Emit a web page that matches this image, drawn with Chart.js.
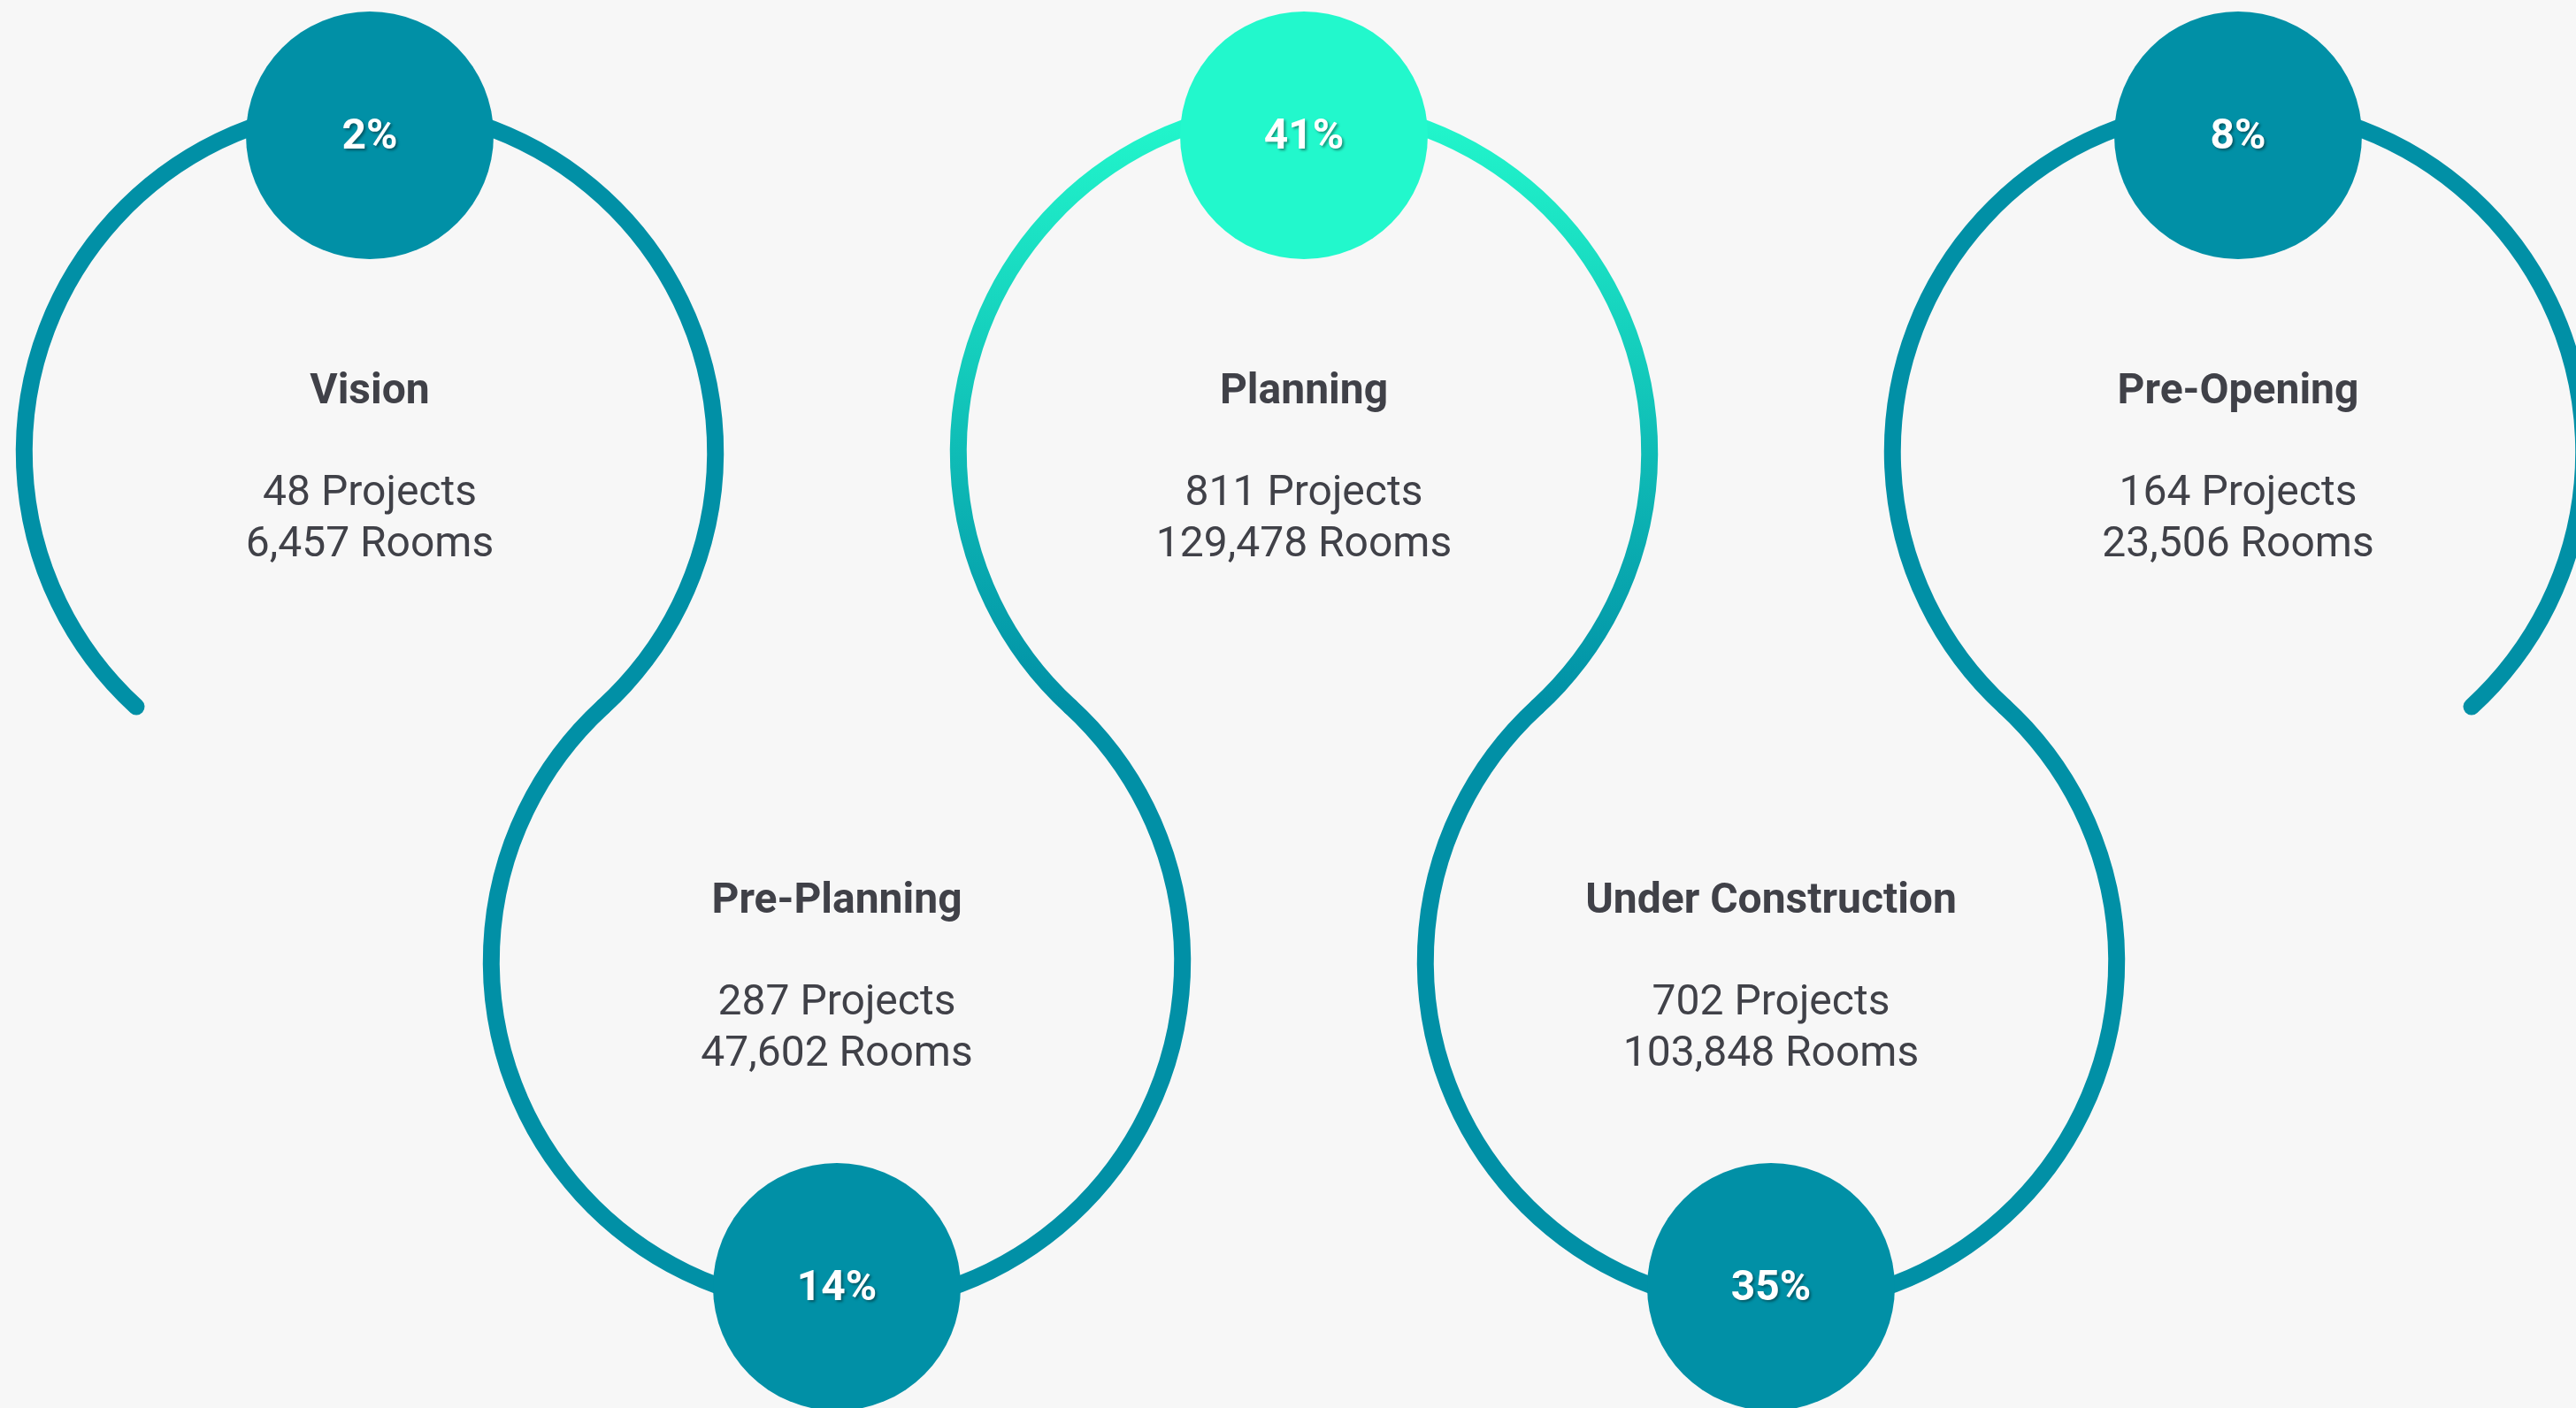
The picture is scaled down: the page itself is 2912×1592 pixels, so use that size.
<!DOCTYPE html>
<html>
<head>
<meta charset="utf-8">
<title>Project pipeline by stage</title>
<script src="https://cdn.jsdelivr.net/npm/chart.js@4.4.1/dist/chart.umd.min.js"></script>
<style>
  html, body { margin: 0; padding: 0; background: #f7f7f7; }
  #pipeline { display: block; }
</style>
</head>
<body>
<canvas id="pipeline" width="2912" height="1592"></canvas>
<script>
// pipeline data
const stages = ['Vision', 'Pre-Planning', 'Planning', 'Under Construction', 'Pre-Opening'];
const sharePct = [2, 14, 41, 35, 8];
const projects = [48, 287, 811, 702, 164];
const rooms = [6457, 47602, 129478, 103848, 23506];

const TEAL = '#0190a6';
const MINT = '#22f8cc';
const TEXT = '#404148';
const FONT = 'Roboto, "Noto Sans", sans-serif';

const topMax = Math.max(...sharePct);
const isTop = (i) => i % 2 === 0;

// ring centre sits below a top bubble / above a bottom bubble
function ringCenter(chart, i) {
    const x = chart.scales.x.getPixelForValue(i);
    const by = chart.scales.y.getPixelForValue(isTop(i) ? 1 : 0);
    return { x: x, y: isTop(i) ? by + 358 : by - 368 };
}

const ringsPlugin = {
    id: 'rings',
    beforeDatasetsDraw(chart) {
        const ctx = chart.ctx;
        const c0 = ringCenter(chart, 0);
        const c1 = ringCenter(chart, 1);
        const dx = c1.x - c0.x;
        const dy = c1.y - c0.y;
        const R = Math.sqrt(dx * dx + dy * dy) / 2;
        const phi = Math.atan2(dy, dx);

        ctx.save();
        ctx.lineWidth = 19;
        ctx.lineCap = 'round';
        stages.forEach((s, i) => {
            const c = ringCenter(chart, i);
            let stroke = TEAL;
            if (sharePct[i] === topMax) {
                const g = ctx.createLinearGradient(0, c.y - R, 0, c.y + R * Math.sin(phi));
                g.addColorStop(0, MINT);
                g.addColorStop(1, TEAL);
                stroke = g;
            }
            ctx.strokeStyle = stroke;
            ctx.beginPath();
            if (isTop(i)) {
                ctx.arc(c.x, c.y, R, Math.PI - phi, phi, false);
            } else {
                ctx.arc(c.x, c.y, R, Math.PI + phi, -phi, true);
            }
            ctx.stroke();
        });
        ctx.restore();
    },
    afterDatasetsDraw(chart) {
        const ctx = chart.ctx;
        const meta = chart.getDatasetMeta(0);
        ctx.save();
        ctx.textAlign = 'center';
        ctx.textBaseline = 'alphabetic';
        stages.forEach((s, i) => {
            const c = ringCenter(chart, i);
            ctx.fillStyle = TEXT;
            ctx.font = 'bold 48px ' + FONT;
            ctx.fillText(s, c.x, c.y - 55);
            ctx.font = '48px ' + FONT;
            ctx.fillText(projects[i].toLocaleString('en-US') + ' Projects', c.x, c.y + 60);
            ctx.fillText(rooms[i].toLocaleString('en-US') + ' Rooms', c.x, c.y + 118);

            // percentage inside the bubble
            const pt = meta.data[i];
            ctx.save();
            ctx.shadowColor = 'rgba(0, 0, 0, 0.4)';
            ctx.shadowOffsetX = 2;
            ctx.shadowOffsetY = 2;
            ctx.shadowBlur = 3;
            ctx.fillStyle = '#ffffff';
            ctx.font = 'bold 48px ' + FONT;
            ctx.fillText(sharePct[i] + '%', pt.x, pt.y + 15);
            ctx.restore();
        });
        ctx.restore();
    }
};

const ctx = document.getElementById('pipeline').getContext('2d');

new Chart(ctx, {
    type: 'bubble',
    data: {
        datasets: [{
            label: 'Share of projects',
            data: stages.map((s, i) => ({ x: i, y: isTop(i) ? 1 : 0, r: 140 })),
            backgroundColor: sharePct.map(p => p === topMax ? MINT : TEAL),
            borderWidth: 0,
            hoverRadius: 0,
            clip: false
        }]
    },
    options: {
        responsive: false,
        animation: false,
        layout: { padding: 0, autoPadding: false },
        plugins: {
            legend: { display: false },
            tooltip: { enabled: false }
        },
        scales: {
            x: { type: 'linear', display: false, min: -0.7917, max: 4.7235 },
            y: { type: 'linear', display: false, min: -0.1052, max: 1.1175 }
        }
    },
    plugins: [ringsPlugin]
});
</script>
</body>
</html>
